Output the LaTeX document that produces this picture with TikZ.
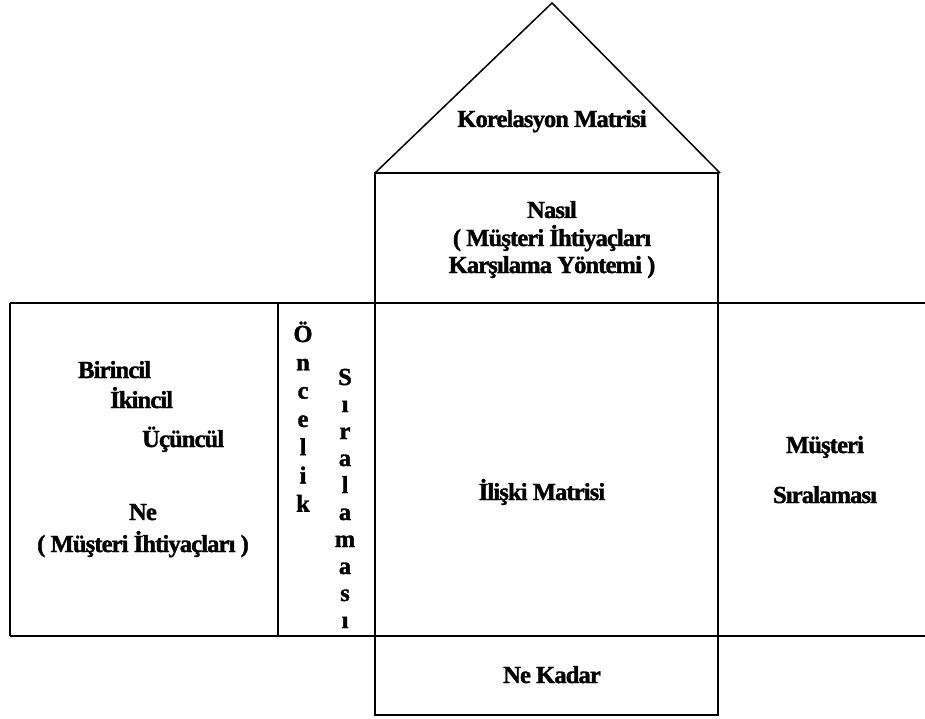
\documentclass[tikz,border=0pt]{standalone}
\usepackage{fontspec}
\setmainfont{Liberation Serif}[LetterSpace=-3.5,BoldFeatures={FakeBold=1.5}]
\begin{document}
\begin{tikzpicture}[x=1pt,y=-1pt,
  frame/.style={line width=2pt,black},
  roofline/.style={line width=1.5pt,black,line join=miter},
  lbl/.style={inner sep=0pt,font=\fontsize{24.5}{28}\selectfont\bfseries},
  lblw/.style={lbl,anchor=base west},
  lblc/.style={lbl,anchor=base}]
\useasboundingbox (0,0) rectangle (925,719);

% house outline
\coordinate (apex) at (552,3);
\coordinate (roofL) at (375,173);
\coordinate (roofR) at (720,173);
\draw[roofline] (roofL) -- (apex) -- (roofR);
\draw[frame] (375,173) rectangle (718,303);       % Nasil box
\draw[frame] (375,636) rectangle (718,715);       % Ne Kadar box
\draw[frame] (10,303) -- (925,303);               % top of middle band
\draw[frame] (10,636) -- (925,636);               % bottom of middle band
\draw[frame] (10,303) -- (10,636);
\draw[frame] (278,303) -- (278,636);
\draw[frame] (375,303) -- (375,636);
\draw[frame] (718,303) -- (718,636);

% roof
\node[lblc] (korel) at (552,127) {Korelasyon Matrisi};

% how
\node[lblc] (nasil1) at (552,218) {Nasıl};
\node[lblc] (nasil2) at (552,246) {( Müşteri İhtiyaçları};
\node[lblc] (nasil3) at (552,273) {Karşılama Yöntemi )};

% what
\node[lblw] (bir) at (78,378) {Birincil};
\node[lblw] (iki) at (110,408) {İkincil};
\node[lblw] (ucu) at (142,447) {Üçüncül};
\node[lblc] (ne1) at (143,520) {Ne};
\node[lblc] (ne2) at (143,552) {( Müşteri İhtiyaçları )};

% priority column, written vertically
\foreach \ch [count=\i] in {Ö,n,c,e,l,i,k}
  \node[lblc] (onc\i) at (303,{342+28.3*(\i-1)}) {\ch};
\foreach \ch [count=\i] in {S,ı,r,a,l,a,m,a,s,ı}
  \node[lblc] (sir\i) at (345,{385+27*(\i-1)}) {\ch};

% relationship matrix
\node[lblc] (iliski) at (542,500) {İlişki Matrisi};

% customer ranking
\node[lblc] (must1) at (825,453) {Müşteri};
\node[lblc] (must2) at (825,503) {Sıralaması};

% how much
\node[lblc] (kadar) at (552,683) {Ne Kadar};
\end{tikzpicture}
\end{document}
